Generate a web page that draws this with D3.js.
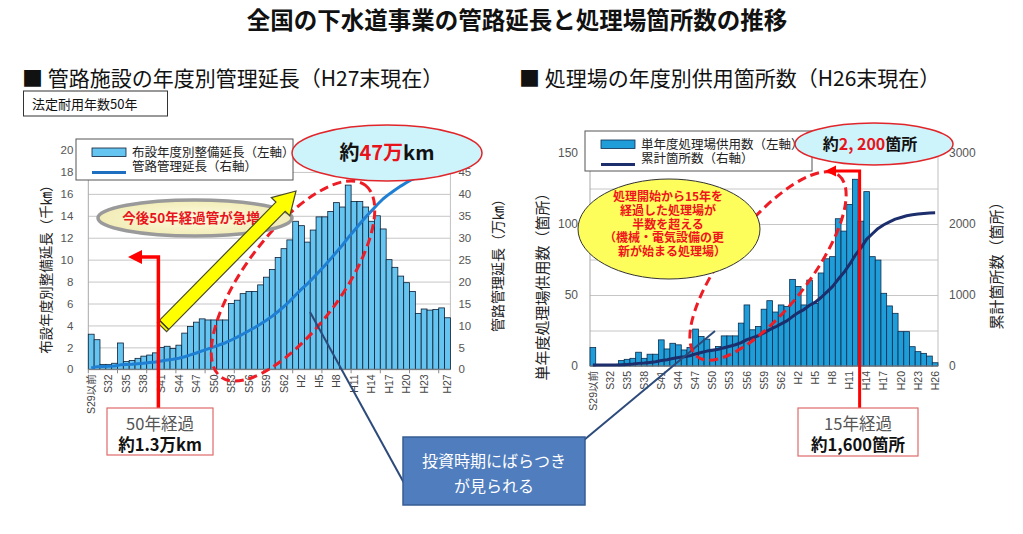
<!DOCTYPE html>
<html><head><meta charset="utf-8">
<script src="https://cdn.jsdelivr.net/npm/d3@7/dist/d3.min.js"></script>
<style>
body{margin:0;background:#fff;}
svg{display:block;font-family:"Noto Sans CJK JP","Noto Sans",sans-serif;}
</style>
</head><body>
<svg id="c" width="1023" height="534"></svg>
<script>
// ---------------- DATA ----------------
const pageTitle = "全国の下水道事業の管路延長と処理場箇所数の推移";
const pipeTitle = "■ 管路施設の年度別管理延長（H27末現在）";
const plantTitle = "■ 処理場の年度別供用箇所数（H26末現在）";

const pipeYears = ["S29以前","S30","S31","S32","S33","S34","S35","S36","S37","S38","S39","S40","S41","S42","S43","S44","S45","S46","S47","S48","S49","S50","S51","S52","S53","S54","S55","S56","S57","S58","S59","S60","S61","S62","S63","H1","H2","H3","H4","H5","H6","H7","H8","H9","H10","H11","H12","H13","H14","H15","H16","H17","H18","H19","H20","H21","H22","H23","H24","H25","H26","H27"];
// 布設年度別整備延長 (千km)
const pipeLengths = [3.2,2.7,0.45,0.45,0.55,2.4,0.7,0.8,1.0,1.2,1.3,1.5,2.0,2.1,1.9,2.2,3.3,3.9,4.3,4.6,4.5,4.5,4.5,4.5,6.0,6.3,6.9,7.1,7.1,7.7,8.4,9.1,10.2,11.0,11.8,13.5,13.1,11.6,12.7,13.9,13.9,14.4,15.2,14.8,16.8,15.3,15.3,14.8,13.5,14.0,12.8,10.0,9.3,8.5,7.9,7.1,5.1,5.5,5.4,5.45,5.6,4.7];
// 管路管理延長 (万km)
const pipeTotals = [0.33,0.61,0.66,0.70,0.76,1.01,1.08,1.16,1.27,1.39,1.53,1.68,1.89,2.11,2.30,2.53,2.87,3.28,3.72,4.20,4.66,5.13,5.59,6.06,6.68,7.33,8.05,8.78,9.52,10.31,11.18,12.13,13.18,14.32,15.54,16.94,18.29,19.49,20.81,22.25,23.69,25.18,26.75,28.28,30.02,31.60,33.19,34.72,36.12,37.56,38.89,39.93,40.89,41.77,42.58,43.32,43.85,44.42,44.98,45.54,46.12,46.61];
const pipeTickLabels = ["S29以前","S32","S35","S38","S41","S44","S47","S50","S53","S56","S59","S62","H2","H5","H8","H11","H14","H17","H20","H23","H27"];
const pipeLeftTicks = [0,2,4,6,8,10,12,14,16,18,20];
const pipeRightTicks = [0,5,10,15,20,25,30,35,40,45];

const plantYears = ["S29以前","S30","S31","S32","S33","S34","S35","S36","S37","S38","S39","S40","S41","S42","S43","S44","S45","S46","S47","S48","S49","S50","S51","S52","S53","S54","S55","S56","S57","S58","S59","S60","S61","S62","S63","H1","H2","H3","H4","H5","H6","H7","H8","H9","H10","H11","H12","H13","H14","H15","H16","H17","H18","H19","H20","H21","H22","H23","H24","H25","H26"];
// 単年度処理場供用数 (箇所)
const plantCounts = [13,0,0,0,0,3.8,4.7,5.4,9.7,5.4,8.3,8.3,18.4,12,16,14.9,11.3,13,26,20.8,18.9,11.8,13.7,21.2,21.2,21.2,30.2,43,25.5,27.8,40,46,38,43,42,61,56,43,60.5,44,65.5,75.5,77,103.7,95,113.8,131.5,102,122.8,77,74.6,51.2,42.3,37.1,24.2,24.2,13.6,10.1,8.9,7,2.3];
// 累計箇所数 (箇所)
const plantTotals = [13,13,13,13,13,17,22,27,37,42,50,59,77,89,105,120,131,144,170,191,210,222,235,257,278,299,329,372,398,426,466,512,550,593,635,696,752,795,855,899,965,1040,1117,1221,1316,1430,1561,1663,1786,1863,1937,1989,2031,2068,2092,2116,2130,2140,2149,2156,2158];
const plantTickLabels = ["S29以前","S32","S35","S38","S41","S44","S47","S50","S53","S56","S59","S62","H2","H5","H8","H11","H14","H17","H20","H23","H26"];
const plantLeftTicks = [0,50,100,150];
const plantGrid = [0,25,50,75,100,125,150];
const plantRightTicks = [0,1000,2000,3000];

// ---------------- DRAW ----------------
const svg = d3.select("#c");
const NUM = '"Liberation Sans","Noto Sans CJK JP",sans-serif';

svg.append("text").attr("x",517).attr("y",29).attr("text-anchor","middle")
  .attr("font-size",23.5).attr("font-weight","bold").attr("fill","#111").text(pageTitle);
svg.append("text").attr("x",22).attr("y",86).attr("font-size",21).attr("fill","#111").text(pipeTitle);
svg.append("text").attr("x",519).attr("y",86).attr("font-size",21).attr("fill","#111").text(plantTitle);

// 法定耐用年数 box
svg.append("rect").attr("x",23.5).attr("y",91).attr("width",144).attr("height",25)
  .attr("fill","#fff").attr("stroke","#333").attr("stroke-width",1);
svg.append("text").attr("x",32).attr("y",108.5).attr("font-size",13).attr("fill","#111").text("法定耐用年数50年");

function drawChart(o){
  const g = svg.append("g");
  const x = d3.scaleBand().domain(o.cats).range([o.x0,o.x1]);
  const y = d3.scaleLinear().domain([0,o.yMax]).range([o.y0,o.y1]);
  const y2 = d3.scaleLinear().domain([0,o.y2Max]).range([o.y0,o.y1]);
  const bw = x.bandwidth();
  // grid
  g.append("g").attr("transform",`translate(${o.x0},0)`)
    .call(d3.axisLeft(y).tickValues(o.grid).tickSize(-(o.x1-o.x0)).tickFormat(""))
    .call(s=>s.select(".domain").remove())
    .selectAll("line").attr("stroke","#c6c6c6").attr("stroke-width",1);
  // frame
  g.append("line").attr("x1",o.x0).attr("x2",o.x0).attr("y1",o.y1).attr("y2",o.y0).attr("stroke","#a8a8a8");
  g.append("line").attr("x1",o.x1).attr("x2",o.x1).attr("y1",o.y1).attr("y2",o.y0).attr("stroke","#c0c0c0");
  // left labels
  g.append("g").attr("transform",`translate(${o.x0},0)`)
    .call(d3.axisLeft(y).tickValues(o.leftTicks).tickSize(0).tickPadding(o.padL).tickFormat(d3.format("d")))
    .call(s=>s.select(".domain").remove())
    .selectAll("text").attr("font-family",NUM).attr("font-size",o.numSize).attr("fill","#555");
  // right labels
  g.append("g").attr("transform",`translate(${o.x1},0)`)
    .call(d3.axisRight(y2).tickValues(o.rightTicks).tickSize(0).tickPadding(o.padR).tickFormat(d3.format("d")))
    .call(s=>s.select(".domain").remove())
    .selectAll("text").attr("font-family",NUM).attr("font-size",o.numSize).attr("fill","#555");
  // bars
  g.append("g").selectAll("rect").data(o.values).join("rect")
    .attr("x",(d,i)=>x(o.cats[i])).attr("y",d=>y(d))
    .attr("width",bw).attr("height",d=>y(0)-y(d))
    .attr("fill",o.barFill).attr("stroke",o.barStroke).attr("stroke-width",0.8);
  // baseline
  g.append("line").attr("x1",o.x0).attr("x2",o.x1).attr("y1",o.y0).attr("y2",o.y0).attr("stroke","#8a8a8a");
  if(o.minorTicks){
    g.append("g").selectAll("line").data(o.cats.filter((c,i)=>i%5===0)).join("line")
      .attr("x1",c=>x(c)).attr("x2",c=>x(c)).attr("y1",o.y0).attr("y2",o.y0+4).attr("stroke","#8a8a8a");
  }
  // cumulative line
  g.append("path").datum(o.totals)
    .attr("d",d3.line().x((d,i)=>x(o.cats[i])+bw/2).y(d=>y2(d)))
    .attr("fill","none").attr("stroke",o.lineColor).attr("stroke-width",3).attr("stroke-linejoin","round");
  // x labels
  const xa = g.append("g").attr("transform",`translate(0,${o.y0})`)
    .call(d3.axisBottom(x).tickValues(o.tickLabels).tickSize(0).tickPadding(0))
    .call(s=>s.select(".domain").remove());
  xa.selectAll("text")
      .attr("x",0).attr("y",0)
      .attr("font-family",NUM).attr("font-size",10.5).attr("fill","#444")
      .attr("text-anchor","end").attr("dy","0.35em")
      .attr("transform","translate(0,5) rotate(-90)");
  return {x,y,y2,bw};
}

const L = drawChart({cats:pipeYears,values:pipeLengths,totals:pipeTotals,x0:88.3,x1:450.4,y0:369.3,y1:150,
  yMax:20,y2Max:50,grid:pipeLeftTicks,leftTicks:pipeLeftTicks,rightTicks:pipeRightTicks,padL:15,padR:8,numSize:11.5,
  barFill:"#66c4f0",barStroke:"#0e1f33",lineColor:"#1f7fd2",tickLabels:pipeTickLabels,minorTicks:true});

const R = drawChart({cats:plantYears,values:plantCounts,totals:plantTotals,x0:590,x1:938,y0:366,y1:153,
  yMax:150,y2Max:3000,grid:plantGrid,leftTicks:plantLeftTicks,rightTicks:plantRightTicks,padL:12,padR:11,numSize:12,
  barFill:"#1f9dd9",barStroke:"#0b2c4c",lineColor:"#1c2e6c",tickLabels:plantTickLabels,minorTicks:false});

// axis titles
function vtext(x,y,t,size){
  svg.append("text").attr("transform",`translate(${x},${y}) rotate(-90)`).attr("text-anchor","middle")
    .attr("dominant-baseline","central").attr("font-size",size).attr("fill","#222").text(t);
}
vtext(45,266,"布設年度別整備延長（千㎞）",13.5);
vtext(497,262,"管路管理延長（万㎞）",14);
vtext(541,283,"単年度処理場供用数（箇所）",15);
vtext(995,262,"累計箇所数（箇所）",15);

// ---- left annotations ----
svg.append("ellipse").attr("transform","translate(293,281) rotate(-53)").attr("rx",120).attr("ry",48)
  .attr("fill","none").attr("stroke","#ee1c24").attr("stroke-width",3).attr("stroke-dasharray","9,5");

// connector lines
svg.append("line").attr("x1",310).attr("y1",312).attr("x2",404).attr("y2",483).attr("stroke","#2c4a7a").attr("stroke-width",2);
svg.append("line").attr("x1",715).attr("y1",331).attr("x2",584).attr("y2",440).attr("stroke","#2c4a7a").attr("stroke-width",2);

// legends
function legend(x,y,w,h,items,sw){
  const g = svg.append("g");
  g.append("rect").attr("x",x).attr("y",y).attr("width",w).attr("height",h).attr("fill","#fff").attr("stroke","#555").attr("stroke-width",1);
  g.append("rect").attr("x",x+16).attr("y",y+9).attr("width",34).attr("height",8.5).attr("fill",sw.fill).attr("stroke",sw.stroke).attr("stroke-width",0.8);
  g.append("line").attr("x1",x+16).attr("x2",x+50).attr("y1",y+33.5).attr("y2",y+33.5).attr("stroke",sw.line).attr("stroke-width",3);
  g.append("text").attr("x",x+56).attr("y",y+18).attr("font-size",12.5).attr("fill","#222").text(items[0]);
  g.append("text").attr("x",x+56).attr("y",y+32).attr("font-size",12.5).attr("fill","#222").text(items[1]);
}
legend(76,139,217,41,["布設年度別整備延長（左軸）","管路管理延長（右軸）"],{fill:"#66c4f0",stroke:"#0e1f33",line:"#1f6fc0"});

// 約47万km ellipse
svg.append("ellipse").attr("cx",387).attr("cy",153).attr("rx",95).attr("ry",28)
  .attr("fill","#cdf3fb").attr("stroke","#e0262a").attr("stroke-width",1.5);
const t47 = svg.append("text").attr("x",387).attr("y",160).attr("text-anchor","middle").attr("font-size",20).attr("font-weight","bold");
t47.append("tspan").attr("fill","#111").text("約");
t47.append("tspan").attr("fill","#e8141c").text("47万");
t47.append("tspan").attr("fill","#111").text("km");

// 今後50年経過管が急増
const grad = svg.append("defs").append("radialGradient").attr("id","yg");
grad.append("stop").attr("offset","0%").attr("stop-color","#fffbe0");
grad.append("stop").attr("offset","100%").attr("stop-color","#f1ecb6");
svg.append("ellipse").attr("cx",195).attr("cy",218).attr("rx",97).attr("ry",18)
  .attr("fill","url(#yg)").attr("stroke","#9a9a9a").attr("stroke-width",3.5);
svg.append("text").attr("x",191).attr("y",223).attr("text-anchor","middle").attr("font-size",13.5)
  .attr("font-weight","bold").attr("fill","#e8141c").text("今後50年経過管が急増");

// yellow arrow
(function(){
  const T=[162,327], P=[296,191];
  const len=Math.hypot(P[0]-T[0],P[1]-T[1]);
  const d=[(P[0]-T[0])/len,(P[1]-T[1])/len], n=[-d[1],d[0]];
  const w=6.5,H=13,Lh=22;
  const B=[P[0]-d[0]*Lh,P[1]-d[1]*Lh];
  const pt=(p,k)=>[p[0]+n[0]*k,p[1]+n[1]*k];
  const pts=[pt(T,w),pt(B,w),pt(B,H),P,pt(B,-H),pt(B,-w),pt(T,-w)];
  svg.append("polygon").attr("points",pts.map(p=>p.join(",")).join(" "))
    .attr("fill","#ffff00").attr("stroke","#4a4a2a").attr("stroke-width",1.2);
  const a=pt([T[0]+d[0]*3,T[1]+d[1]*3],w), b=pt([T[0]+d[0]*3,T[1]+d[1]*3],-w);
  svg.append("line").attr("x1",a[0]).attr("y1",a[1]).attr("x2",b[0]).attr("y2",b[1]).attr("stroke","#333").attr("stroke-width",1.5);
})();

// red arrow left (50 years)
(function(){
  const xr = L.x("S41");
  svg.append("path").attr("d",`M${xr},408 L${xr},257 L140,257`).attr("fill","none").attr("stroke","#ff0000").attr("stroke-width",3.5);
  svg.append("polygon").attr("points",`128,257 142,250 142,264`).attr("fill","#ff0000");
})();

// bottom box left
svg.append("rect").attr("x",107).attr("y",408).attr("width",106).attr("height",47).attr("fill","#fff").attr("stroke","#e06a6a").attr("stroke-width",1.2);
svg.append("text").attr("x",160).attr("y",430).attr("text-anchor","middle").attr("font-size",16.5).attr("fill","#555").text("50年経過");
svg.append("text").attr("x",160).attr("y",451).attr("text-anchor","middle").attr("font-size",16.5).attr("font-weight","bold").attr("fill","#111").text("約1.3万km");

// ---- right annotations ----
svg.append("ellipse").attr("transform","translate(768,266) rotate(-52)").attr("rx",115).attr("ry",42)
  .attr("fill","none").attr("stroke","#ee1c24").attr("stroke-width",3).attr("stroke-dasharray","9,5");

svg.append("ellipse").attr("cx",669).attr("cy",229).attr("rx",91).attr("ry",50)
  .attr("fill","#fdfd5c").attr("stroke","#333").attr("stroke-width",1);
const yl = ["処理開始から15年を","経過した処理場が","半数を超える","（機械・電気設備の更","新が始まる処理場）"];
svg.append("g").selectAll("text").data(yl).join("text")
  .attr("x",(d,i)=> i===3 ? 664 : (i===4? 672 : 668)).attr("y",(d,i)=>201+i*13.8).attr("text-anchor","middle")
  .attr("font-size",12).attr("font-weight","bold").attr("fill","#f0141c").text(d=>d);

legend(585,131,227,40,["単年度処理場供用数（左軸）","累計箇所数（右軸）"],{fill:"#1f9dd9",stroke:"#0b2c4c",line:"#1c2e6c"});

svg.append("ellipse").attr("cx",874).attr("cy",144).attr("rx",79).attr("ry",21)
  .attr("fill","#cdf3fb").attr("stroke","#e0262a").attr("stroke-width",1.5);
const t22 = svg.append("text").attr("x",870).attr("y",150).attr("text-anchor","middle").attr("font-size",16).attr("font-weight","bold");
t22.append("tspan").attr("fill","#111").text("約");
t22.append("tspan").attr("fill","#e8141c").text("2, 200");
t22.append("tspan").attr("fill","#111").text("箇所");

(function(){
  const xr = R.x("H13")+1.5;
  svg.append("path").attr("d",`M${xr},408 L${xr},171 L834,171`).attr("fill","none").attr("stroke","#ff0000").attr("stroke-width",3);
  svg.append("polygon").attr("points",`825,171 836,165.5 836,176.5`).attr("fill","#ff0000");
})();

svg.append("rect").attr("x",798).attr("y",408).attr("width",120).attr("height",48).attr("fill","#fff").attr("stroke","#e06a6a").attr("stroke-width",1.2);
svg.append("text").attr("x",858).attr("y",430).attr("text-anchor","middle").attr("font-size",16.5).attr("fill","#555").text("15年経過");
svg.append("text").attr("x",858).attr("y",451).attr("text-anchor","middle").attr("font-size",16.5).attr("font-weight","bold").attr("fill","#111").text("約1,600箇所");

// blue callout
svg.append("rect").attr("x",403).attr("y",437).attr("width",182).attr("height",68).attr("fill","#4f7dbd").attr("stroke","#375d92").attr("stroke-width",1.5);
svg.append("text").attr("x",494).attr("y",467).attr("text-anchor","middle").attr("font-size",16).attr("fill","#fff").text("投資時期にばらつき");
svg.append("text").attr("x",494).attr("y",492).attr("text-anchor","middle").attr("font-size",16).attr("fill","#fff").text("が見られる");
</script>
</body></html>
